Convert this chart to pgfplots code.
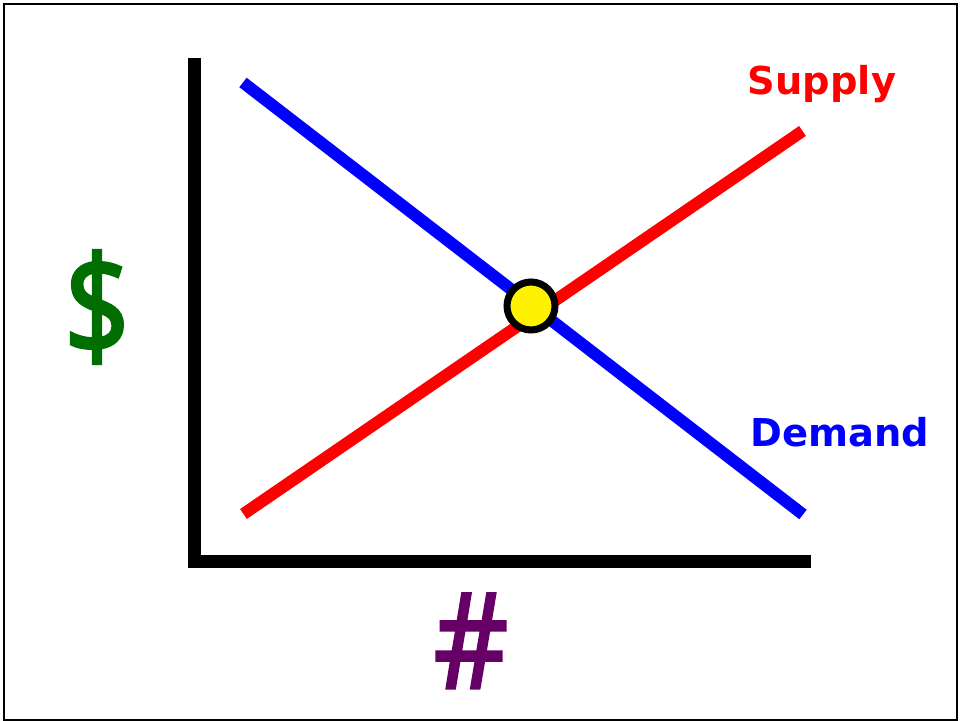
\documentclass[border=0pt]{standalone}
\usepackage{pgfplots}
\pgfplotsset{compat=1.18}
\usepackage{fontspec}
\setmainfont{DejaVu Sans}
\newfontfamily\symfont[FakeBold=2.5]{Open Sans}

\definecolor{dgreen}{RGB}{0,110,0}
\definecolor{dpurple}{RGB}{102,0,102}

% 1 px of the reference = 0.5pt, y measured upward (data y = 721 - pixel y)
\begin{document}
\begin{tikzpicture}
\begin{axis}[
  x=0.5pt, y=0.5pt,
  xmin=195, xmax=804.5,
  ymin=159, ymax=656.5,
  axis lines=left,
  axis line style={-, line width=6.5pt, line cap=rect, black},
  xtick=\empty, ytick=\empty,
  clip=false,
]
% demand
\addplot[blue, line width=6pt] coordinates {(243,638.5) (803,206.5)};
% supply
\addplot[red, line width=6pt] coordinates {(243.5,207) (802.5,590)};
% equilibrium point
\addplot[only marks, mark=*, mark size=12pt,
  mark options={fill=yellow, draw=black, line width=3.5pt}]
  coordinates {(531,415)};

\node[red, anchor=base, font=\bfseries\fontsize{19.2pt}{23pt}\selectfont]
  at (axis cs:822,626) {Supply};
\node[blue, anchor=base, font=\bfseries\fontsize{19.2pt}{23pt}\selectfont]
  at (axis cs:839.5,274) {Demand};
\node[dgreen, anchor=center, xscale=0.84, font=\symfont\fontsize{69pt}{84pt}\selectfont]
  at (axis cs:97,414) {\$};
\node[dpurple, anchor=base, xscale=0.87, font=\symfont\fontsize{66pt}{78pt}\selectfont]
  at (axis cs:471,33) {\#};

\coordinate (bl) at (axis cs:0,0);
\coordinate (tr) at (axis cs:960,721);
\draw[line width=1pt] (axis cs:3.7,1) rectangle (axis cs:957,717.3);
\end{axis}
\pgfresetboundingbox
\path[use as bounding box] (bl) rectangle (tr);
\end{tikzpicture}
\end{document}
